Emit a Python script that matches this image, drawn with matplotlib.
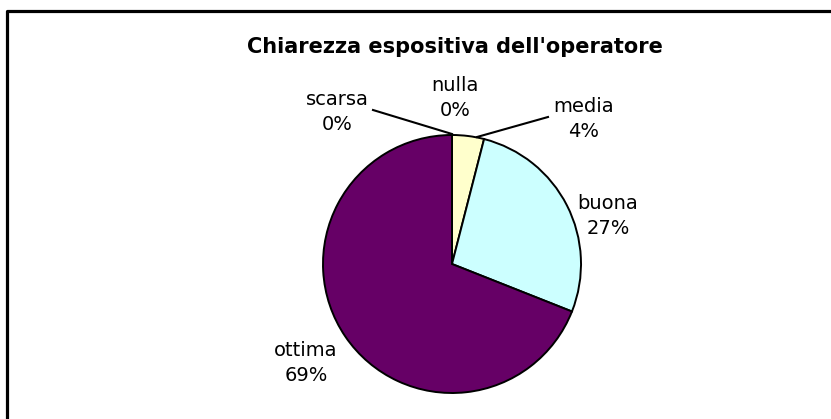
import matplotlib
matplotlib.use('Agg')
import matplotlib.pyplot as plt

# data
categories = ['nulla', 'scarsa', 'media', 'buona', 'ottima']
values = [0, 0, 4, 27, 69]
colors = ['#9999FF', '#993366', '#FFFFCC', '#CCFFFF', '#660066']
title = "Chiarezza espositiva dell'operatore"

W, H = 831, 419
fig = plt.figure(figsize=(W / 100, H / 100), dpi=100)
ax = fig.add_axes([0, 0, 1, 1])

# pixel-style coordinates (y from top)
def py(y):
    return H - y

cx, cy, r = 452, py(264), 129

ax.pie(values, colors=colors, startangle=90, counterclock=False,
       center=(cx, cy), radius=r, frame=True,
       wedgeprops=dict(edgecolor='black', linewidth=1.4))
ax.set_xlim(0, W)
ax.set_ylim(0, H)
ax.set_aspect('equal')
ax.axis('off')

# frame (top and left edges of the chart area)
ax.plot([6.5, 6.5, W], [0, py(10.5), py(10.5)], color='black', lw=2.3,
        solid_capstyle='butt', clip_on=False)

ax.text(455, py(47), title, ha='center', va='center', fontsize=15,
        fontweight='bold', family='DejaVu Sans')

# label positions (text block centres)
label_pos = {'nulla': (455, 98), 'scarsa': (337, 112), 'media': (584, 119),
             'buona': (608, 216), 'ottima': (306, 363)}
total = sum(values)
for cat, v in zip(categories, values):
    x, y = label_pos[cat]
    ax.text(x, py(y), f'{cat}\n{round(100 * v / total)}%', ha='center', va='center',
            fontsize=14, linespacing=1.4, family='DejaVu Sans')

# leader lines
ax.plot([373, 452], [py(110), py(134)], color='black', lw=1.5)
ax.plot([477, 548], [py(137), py(117)], color='black', lw=1.5)

fig.savefig('out.png', dpi=100, facecolor='white')
